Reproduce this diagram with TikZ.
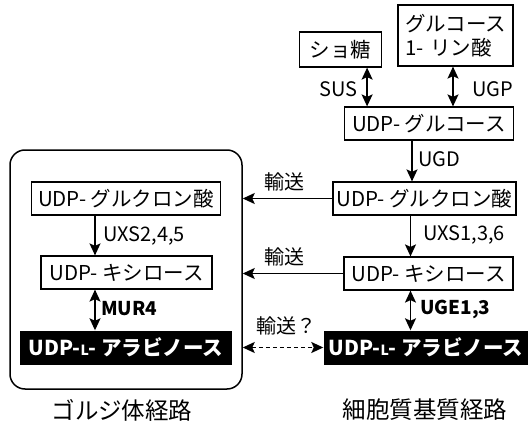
\documentclass[tikz,border=0pt]{standalone}
\usepackage{fontspec}
\setmainfont{Noto Sans CJK JP}
\usetikzlibrary{arrows.meta,calc}
\begin{document}
\begin{tikzpicture}[x=1pt,y=-1pt,
  every node/.style={font=\fontsize{20.5}{24}\selectfont, inner sep=0pt},
  box/.style={draw, line width=1.2pt, minimum height=33pt, align=center},
  blk/.style={fill=black, text=white, minimum height=34pt, font=\fontsize{20.5}{24}\selectfont\bfseries},
  arr/.style={line width=1.6pt, -{Stealth[length=12pt,width=11pt,inset=2.5pt]}},
  darr/.style={line width=1.6pt, {Stealth[length=12pt,width=11pt,inset=2.5pt]}-{Stealth[length=12pt,width=11pt,inset=2.5pt]}},
  lab/.style={font=\fontsize{20}{24}\selectfont},
  blab/.style={font=\fontsize{19}{23}\selectfont\bfseries},
  captext/.style={font=\fontsize{23.5}{28}\selectfont}]
\useasboundingbox (0,0) rectangle (528,428);
% Golgi frame
\node[draw, line width=1.5pt, rounded corners=15pt, minimum width=232pt, minimum height=239pt] (golgi) at (126,269.5) {};
% right column
\node[box, minimum width=82pt, minimum height=35pt] (suc) at (340.5,49.5) {ショ糖};
\node[box, minimum width=115pt, minimum height=61pt, align=left, text width=101pt] (g1p) at (455.5,35.5) {グルコース\\1- リン酸};
\node[box, minimum width=169pt] (udpglc) at (429,123.5) {UDP- グルコース};
\node[box, minimum width=183pt] (rglca) at (424.5,198.5) {UDP- グルクロン酸};
\node[box, minimum width=169pt] (rxyl) at (428.5,273.5) {UDP- キシロース};
\node[blk, minimum width=205pt] (rara) at (426,347.5) {UDP-{\fontsize{14}{16}\selectfont L}- アラビノース};
% left column
\node[box, minimum width=189pt] (lglca) at (126,198.5) {UDP- グルクロン酸};
\node[box, minimum width=171pt] (lxyl) at (126.5,272.5) {UDP- キシロース};
\node[blk, minimum width=212pt] (lara) at (126,347.5) {UDP-{\fontsize{14}{16}\selectfont L}- アラビノース};
% vertical arrows right
\draw[darr] ([xshift=-15pt]suc.south east) -- ([xshift=-15pt]suc.south east |- udpglc.north);
\draw[darr] ([xshift=-2.5pt]g1p.south) -- ([xshift=-2.5pt]g1p.south |- udpglc.north);
\draw[arr] ([xshift=-17pt]udpglc.south) -- ([xshift=-17pt]udpglc.south |- rglca.north);
\draw[arr] ([xshift=-14pt]rglca.south) -- ([xshift=-14pt]rglca.south |- rxyl.north);
\draw[darr] ([xshift=-18pt]rxyl.south) -- ([xshift=-18pt]rxyl.south |- rara.north);
% vertical arrows left
\draw[arr] ([xshift=-31pt]lglca.south) -- ([xshift=-31pt]lglca.south |- lxyl.north);
\draw[darr] ([xshift=-31.5pt]lxyl.south) -- ([xshift=-31.5pt]lxyl.south |- lara.north);
% transport arrows
\draw[arr] (rglca.west) -- (rglca.west -| golgi.east);
\draw[arr] (rxyl.west) -- (rxyl.west -| golgi.east);
\draw[darr, dashed, dash pattern=on 4pt off 3pt] (rara.west -| golgi.east) -- (rara.west);
% labels
\node[lab, anchor=east] (lsus) at (358,89) {SUS};
\node[lab, anchor=west] (lugp) at (472,89) {UGP};
\node[lab, anchor=west] (lugd) at (418,159) {UGD};
\node[lab, anchor=west] (luxs1) at (423,235) {UXS1,3,6};
\node[blab, anchor=west] (luge) at (420,309) {UGE1,3};
\node[lab, anchor=west] (luxs2) at (103,236) {UXS2,4,5};
\node[blab, anchor=west] (lmur) at (101,309) {MUR4};
\node[lab] (t1) at (284,182) {輸送};
\node[lab] (t2) at (284,257) {輸送};
\node[lab] (t3) at (286,326) {輸送？};
\node[captext] (cg) at (122,410) {ゴルジ体経路};
\node[captext] (cc) at (425,410) {細胞質基質経路};
\end{tikzpicture}
\end{document}
